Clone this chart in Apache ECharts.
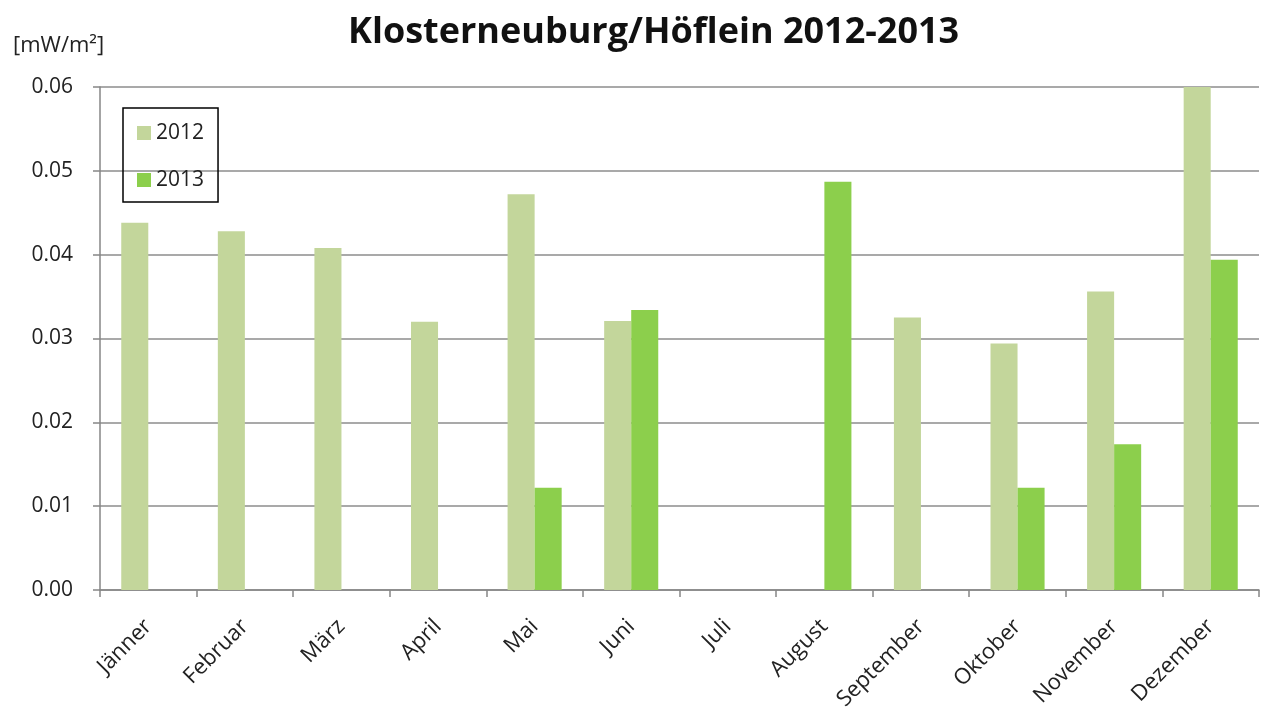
<!DOCTYPE html>
<html>
<head>
<meta charset="utf-8">
<script src="https://cdn.jsdelivr.net/npm/echarts@6/dist/echarts.min.js"></script>
<style>
  html, body { margin: 0; padding: 0; background: #fff; }
  #chart { width: 1263px; height: 713px; }
</style>
</head>
<body>
<div id="chart"></div>
<script>
// Monthly averages at Klosterneuburg/Höflein, in mW/m²
const months = ['Jänner', 'Februar', 'März', 'April', 'Mai', 'Juni', 'Juli',
  'August', 'September', 'Oktober', 'November', 'Dezember'];
const values2012 = [0.0438, 0.0428, 0.0408, 0.0320, 0.0472, 0.0321, null,
  null, 0.0325, 0.0294, 0.0356, 0.0601];
const values2013 = [null, null, null, null, 0.0122, 0.0334, null,
  0.0487, null, 0.0122, 0.0174, 0.0394];
const yTicks = [0, 0.01, 0.02, 0.03, 0.04, 0.05, 0.06];

const FONT = '"Open Sans", "Liberation Sans", sans-serif';
const chart = echarts.init(document.getElementById('chart'));

chart.setOption({
  backgroundColor: '#ffffff',
  animation: false,
  textStyle: { fontFamily: FONT },
  title: [{
    text: 'Klosterneuburg/Höflein 2012-2013',
    left: 343,
    top: 10,
    textStyle: { fontFamily: FONT, fontSize: 36, fontWeight: 'bold', color: '#111' }
  }, {
    text: '[mW/m²]',
    left: 8,
    top: 30,
    textStyle: { fontFamily: FONT, fontSize: 22, fontWeight: 'normal', color: '#222' }
  }],
  legend: {
    orient: 'vertical',
    left: 123,
    top: 108,
    itemWidth: 14,
    itemHeight: 14,
    itemGap: 25,
    padding: [14, 14, 11, 14],
    borderColor: '#000',
    borderWidth: 1.5,
    icon: 'rect',
    textStyle: { fontFamily: FONT, fontSize: 21, color: '#222', lineHeight: 22 },
    data: ['2012', '2013']
  },
  grid: { left: 100, right: 4, top: 87, bottom: 121, containLabel: false },
  xAxis: {
    type: 'category',
    data: months,
    axisLine: { lineStyle: { color: '#868686', width: 1.5 } },
    axisTick: { show: true, length: 7, alignWithLabel: false, lineStyle: { color: '#868686', width: 1.5 } },
    axisLabel: { rotate: 45, fontSize: 22, color: '#222', margin: 33, interval: 0 },
    splitLine: { show: false }
  },
  yAxis: {
    type: 'value',
    min: 0,
    max: 0.06,
    interval: 0.01,
    axisLine: { show: true, lineStyle: { color: '#868686', width: 1.5 } },
    axisTick: { show: true, length: 7, lineStyle: { color: '#868686', width: 1.5 } },
    axisLabel: {
      fontSize: 21, color: '#222', margin: 27,
      formatter: v => yTicks.includes(+v.toFixed(2)) ? v.toFixed(2) : ''
    },
    splitLine: { show: true, lineStyle: { color: '#8c8c8c', width: 1.5 } }
  },
  series: [{
    name: '2012',
    type: 'bar',
    data: values2012,
    itemStyle: { color: '#c3d69b' },
    barGap: '0%',
    barCategoryGap: '44%'
  }, {
    name: '2013',
    type: 'bar',
    data: values2013,
    itemStyle: { color: '#8ccf4c' },
    barGap: '0%',
    barCategoryGap: '44%'
  }]
});
</script>
</body>
</html>
